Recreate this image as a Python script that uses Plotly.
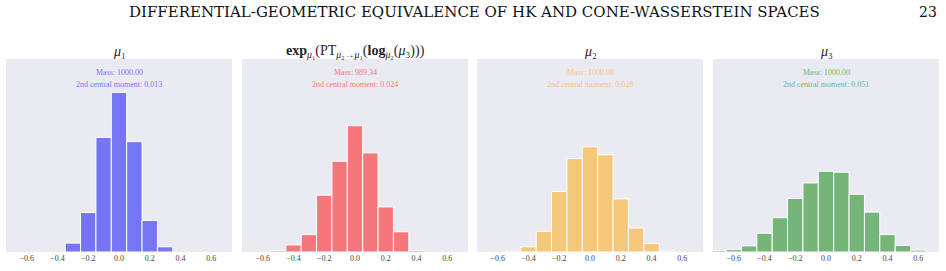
import plotly.graph_objects as go

# ---- data ----
centers_1 = [-0.3, -0.2, -0.1, 0.0, 0.1, 0.2, 0.3]
counts_1 = [19, 84, 244, 340, 235, 67, 11]

centers_2 = [-0.5, -0.4, -0.3, -0.2, -0.1, 0.0, 0.1, 0.2, 0.3, 0.4]
counts_2 = [3, 15, 37, 121, 193, 269, 211, 96, 43, 3]

centers_3 = [-0.5, -0.4, -0.3, -0.2, -0.1, 0.0, 0.1, 0.2, 0.3, 0.4, 0.5]
counts_3 = [2, 11, 44, 129, 199, 224, 207, 113, 51, 18, 2]

centers_4 = [-0.7, -0.6, -0.5, -0.4, -0.3, -0.2, -0.1, 0.0, 0.1, 0.2, 0.3, 0.4, 0.5, 0.6]
counts_4 = [3, 5, 13, 40, 73, 114, 147, 172, 170, 123, 85, 37, 14, 4]

titles = [
    "<i>μ</i>₁",
    "<b>exp</b><sub><i>μ</i>₁</sub>(PT<sub><i>μ</i>₂→<i>μ</i>₁</sub>(<b>log</b><sub><i>μ</i>₂</sub>(<i>μ</i>₃)))",
    "<i>μ</i>₂",
    "<i>μ</i>₃",
]
masses = ["1000.00", "989.34", "1000.00", "1000.00"]
moments = ["0.013", "0.024", "0.028", "0.051"]
colors = ["#7575F5", "#F5777C", "#F5C77A", "#75B57A"]

tick_vals = [-0.6, -0.4, -0.2, 0.0, 0.2, 0.4, 0.6]
tick_text = ["−0.6", "−0.4", "−0.2", "0.0", "0.2", "0.4", "0.6"]

header = "DIFFERENTIAL-GEOMETRIC EQUIVALENCE OF HK AND CONE-WASSERSTEIN SPACES"
page_no = "23"

# ---- layout geometry ----
W, H = 946, 271
panels_px = [(6, 232), (242, 468), (477, 703), (713, 939)]
y_top, y_bot = 59, 252
ydom = [(H - y_bot) / H, (H - y_top) / H]

serif = "Liberation Serif"
fig = go.Figure()
series = [(centers_1, counts_1), (centers_2, counts_2), (centers_3, counts_3), (centers_4, counts_4)]

layout = dict(
    width=W, height=H, margin=dict(l=0, r=0, t=0, b=0),
    paper_bgcolor="white", plot_bgcolor="#EAEAF2", showlegend=False,
    font=dict(family=serif, color="#262626"),
)
annotations = []
for i, ((c, v), (x0, x1)) in enumerate(zip(series, panels_px)):
    n = "" if i == 0 else str(i + 1)
    fig.add_trace(go.Bar(
        x=c, y=v, width=0.1, xaxis="x" + n, yaxis="y" + n,
        marker=dict(color=colors[i], line=dict(color="white", width=1)),
        hoverinfo="skip",
    ))
    layout["xaxis" + n] = dict(
        domain=[x0 / W, x1 / W], range=[-0.735, 0.735], anchor="y" + n,
        tickvals=tick_vals, ticktext=tick_text, showgrid=False, zeroline=False,
        showline=False, ticks="", ticklen=0,
        tickfont=dict(size=8, family=serif, color="#444444"),
    )
    layout["yaxis" + n] = dict(
        domain=ydom, range=[0, 411], anchor="x" + n, showticklabels=False,
        showgrid=False, zeroline=False, showline=False, ticks="",
    )
    xr = "x" + n + " domain"
    yr = "y" + n + " domain"
    annotations.append(dict(text="Mass: " + masses[i], x=0.5, y=(y_bot - 72) / (y_bot - y_top),
                            xref=xr, yref=yr, yanchor="middle", xanchor="center",
                            showarrow=False, font=dict(size=8, color=colors[i], family=serif)))
    annotations.append(dict(text="2nd central moment: " + moments[i], x=0.5,
                            y=(y_bot - 84) / (y_bot - y_top), xref=xr, yref=yr,
                            yanchor="middle", xanchor="center",
                            showarrow=False, font=dict(size=8, color=colors[i], family=serif)))
    annotations.append(dict(text=titles[i], x=(x0 + x1) / 2 / W, y=(H - 51) / H, xref="paper", yref="paper",
                            yanchor="middle", xanchor="center",
                            showarrow=False, font=dict(size=14, color="#262626", family=serif)))

annotations.append(dict(text=header, x=474 / W, y=(H - 12) / H, xref="paper", yref="paper",
                        yanchor="middle", xanchor="center",
                        showarrow=False, font=dict(size=15, color="#111111", family="DejaVu Serif")))
annotations.append(dict(text=page_no, x=928 / W, y=(H - 12) / H, xref="paper", yref="paper",
                        yanchor="middle", xanchor="center",
                        showarrow=False, font=dict(size=14, color="#111111", family="DejaVu Serif")))
layout["annotations"] = annotations
fig.update_layout(**layout)
fig.write_html("out.html")
